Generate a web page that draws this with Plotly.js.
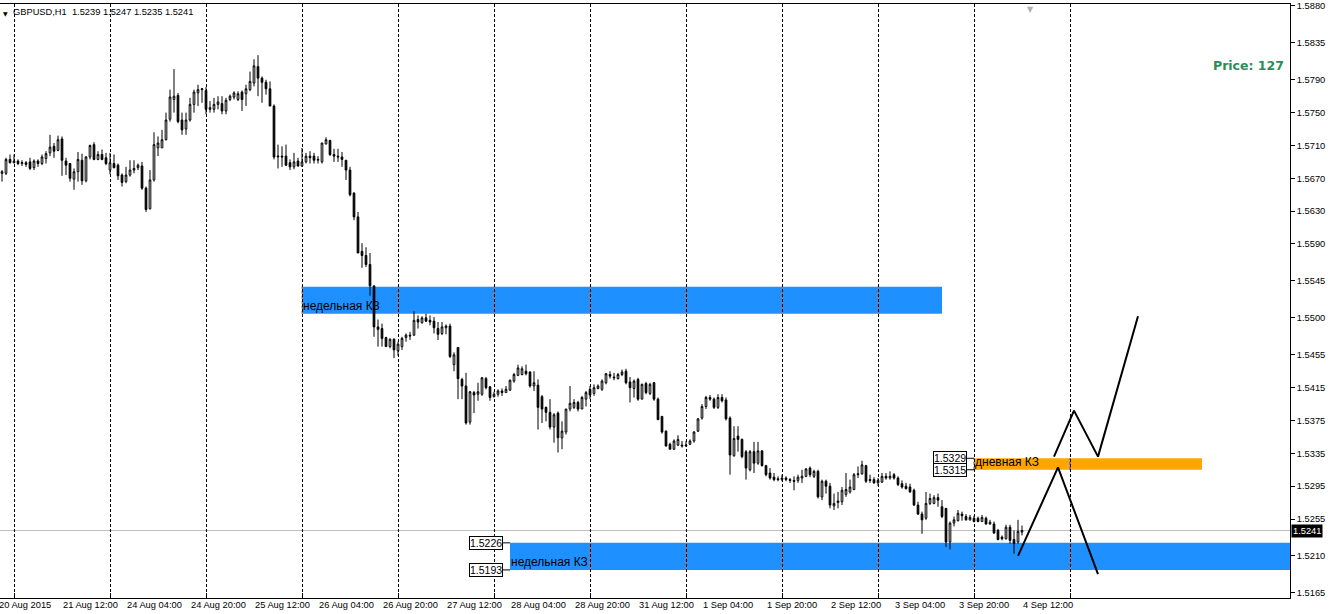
<!DOCTYPE html>
<html><head><meta charset="utf-8">
<script src="https://cdn.plot.ly/plotly-3.0.1.min.js"></script>
<style>html,body{margin:0;padding:0;background:#fff;}#chart{width:1331px;height:614px;}</style>
</head><body><div id="chart"></div>
<script>
// ---------- DATA ----------
const symbol = 'GBPUSD,H1';
// hourly bars, first visible bar = 20 Aug 2015 21:00, last = 4 Sep 2015 12:00
const opens = [
1.5676,1.5676,1.5693,1.5689,1.5691,1.5688,1.5689,1.5690,1.5683,1.5691,1.5688,1.5694,1.5701,1.5709,1.5704,1.5718,
1.5691,1.5688,1.5669,1.5678,1.5692,1.5667,1.5696,1.5711,1.5693,1.5699,1.5695,1.5680,1.5688,1.5686,1.5674,1.5666,
1.5674,1.5680,1.5683,1.5685,1.5658,1.5633,1.5668,1.5707,1.5707,1.5717,1.5742,1.5766,1.5771,1.5741,1.5730,1.5741,
1.5760,1.5774,1.5778,1.5777,1.5754,1.5754,1.5760,1.5761,1.5752,1.5766,1.5769,1.5766,1.5775,1.5773,1.5778,1.5786,
1.5806,1.5792,1.5787,1.5779,1.5758,1.5696,1.5697,1.5697,1.5689,1.5684,1.5691,1.5685,1.5690,1.5697,1.5697,1.5692,
1.5690,1.5712,1.5716,1.5699,1.5697,1.5696,1.5692,1.5680,1.5652,1.5623,1.5581,1.5576,1.5565,1.5539,1.5489,1.5487,
1.5476,1.5465,1.5474,1.5460,1.5465,1.5476,1.5479,1.5479,1.5498,1.5494,1.5500,1.5497,1.5496,1.5487,1.5481,1.5488,
1.5490,1.5443,1.5464,1.5425,1.5417,1.5373,1.5409,1.5407,1.5407,1.5426,1.5416,1.5404,1.5407,1.5411,1.5409,1.5412,
1.5423,1.5430,1.5431,1.5435,1.5434,1.5417,1.5418,1.5404,1.5391,1.5385,1.5367,1.5384,1.5354,1.5361,1.5389,1.5391,
1.5397,1.5389,1.5401,1.5413,1.5408,1.5414,1.5413,1.5421,1.5431,1.5428,1.5426,1.5431,1.5435,1.5422,1.5414,1.5425,
1.5401,1.5420,1.5408,1.5421,1.5401,1.5380,1.5362,1.5346,1.5340,1.5345,1.5345,1.5344,1.5346,1.5350,1.5362,1.5378,
1.5392,1.5403,1.5401,1.5391,1.5403,1.5400,1.5378,1.5332,1.5356,1.5352,1.5337,1.5315,1.5337,1.5323,1.5338,1.5320,
1.5311,1.5306,1.5304,1.5303,1.5305,1.5303,1.5302,1.5302,1.5305,1.5307,1.5317,1.5307,1.5313,1.5282,1.5301,1.5295,
1.5271,1.5275,1.5276,1.5285,1.5288,1.5291,1.5309,1.5310,1.5320,1.5303,1.5303,1.5299,1.5300,1.5307,1.5305,1.5309,
1.5305,1.5298,1.5295,1.5294,1.5290,1.5272,1.5261,1.5256,1.5274,1.5274,1.5281,1.5270,1.5268,1.5227,1.5250,1.5253,
1.5261,1.5258,1.5254,1.5256,1.5256,1.5252,1.5256,1.5249,1.5249,1.5241,1.5233,1.5231,1.5245,1.5230,1.5227,1.5239];
const highs = [
1.5680,1.5695,1.5699,1.5699,1.5693,1.5692,1.5691,1.5695,1.5693,1.5693,1.5699,1.5703,1.5723,1.5713,1.5722,1.5721,
1.5695,1.5688,1.5682,1.5702,1.5700,1.5697,1.5711,1.5714,1.5703,1.5705,1.5701,1.5701,1.5699,1.5688,1.5676,1.5684,
1.5692,1.5692,1.5688,1.5690,1.5660,1.5680,1.5726,1.5721,1.5729,1.5750,1.5778,1.5803,1.5774,1.5750,1.5750,1.5768,
1.5778,1.5784,1.5780,1.5781,1.5764,1.5768,1.5770,1.5770,1.5768,1.5772,1.5776,1.5776,1.5777,1.5784,1.5800,1.5815,
1.5820,1.5794,1.5790,1.5788,1.5760,1.5711,1.5709,1.5711,1.5693,1.5701,1.5695,1.5707,1.5701,1.5703,1.5701,1.5697,
1.5713,1.5720,1.5717,1.5706,1.5706,1.5702,1.5692,1.5684,1.5653,1.5629,1.5591,1.5586,1.5579,1.5539,1.5498,1.5493,
1.5477,1.5475,1.5475,1.5471,1.5477,1.5481,1.5483,1.5508,1.5503,1.5502,1.5505,1.5503,1.5501,1.5495,1.5495,1.5492,
1.5493,1.5458,1.5464,1.5427,1.5433,1.5411,1.5411,1.5421,1.5428,1.5428,1.5417,1.5410,1.5413,1.5414,1.5417,1.5425,
1.5433,1.5443,1.5441,1.5443,1.5435,1.5435,1.5425,1.5406,1.5392,1.5401,1.5384,1.5386,1.5374,1.5389,1.5417,1.5401,
1.5399,1.5405,1.5411,1.5417,1.5419,1.5419,1.5425,1.5433,1.5435,1.5433,1.5433,1.5437,1.5438,1.5428,1.5425,1.5427,
1.5420,1.5422,1.5421,1.5422,1.5403,1.5380,1.5363,1.5348,1.5352,1.5357,1.5350,1.5350,1.5352,1.5362,1.5378,1.5395,
1.5405,1.5406,1.5403,1.5407,1.5407,1.5403,1.5380,1.5368,1.5368,1.5353,1.5339,1.5339,1.5349,1.5349,1.5339,1.5321,
1.5317,1.5311,1.5307,1.5309,1.5307,1.5305,1.5307,1.5309,1.5315,1.5317,1.5319,1.5315,1.5315,1.5303,1.5303,1.5299,
1.5286,1.5288,1.5294,1.5311,1.5303,1.5311,1.5319,1.5326,1.5321,1.5309,1.5306,1.5305,1.5311,1.5311,1.5313,1.5311,
1.5307,1.5302,1.5299,1.5298,1.5292,1.5276,1.5264,1.5288,1.5286,1.5284,1.5286,1.5278,1.5268,1.5252,1.5258,1.5266,
1.5264,1.5261,1.5260,1.5259,1.5258,1.5260,1.5258,1.5254,1.5252,1.5243,1.5235,1.5248,1.5248,1.5241,1.5254,1.5247];
const lows = [
1.5666,1.5674,1.5688,1.5688,1.5686,1.5685,1.5684,1.5680,1.5680,1.5684,1.5686,1.5688,1.5697,1.5695,1.5703,1.5673,
1.5674,1.5666,1.5656,1.5666,1.5662,1.5665,1.5693,1.5692,1.5692,1.5692,1.5686,1.5675,1.5682,1.5668,1.5660,1.5664,
1.5672,1.5676,1.5680,1.5656,1.5629,1.5632,1.5666,1.5697,1.5707,1.5716,1.5739,1.5750,1.5737,1.5723,1.5723,1.5739,
1.5750,1.5758,1.5762,1.5748,1.5750,1.5750,1.5754,1.5748,1.5748,1.5764,1.5766,1.5764,1.5752,1.5758,1.5776,1.5782,
1.5770,1.5762,1.5772,1.5758,1.5693,1.5682,1.5684,1.5685,1.5680,1.5681,1.5684,1.5684,1.5688,1.5688,1.5688,1.5688,
1.5688,1.5711,1.5697,1.5690,1.5690,1.5684,1.5668,1.5648,1.5619,1.5579,1.5561,1.5562,1.5527,1.5477,1.5465,1.5465,
1.5465,1.5463,1.5451,1.5454,1.5461,1.5471,1.5473,1.5478,1.5487,1.5493,1.5495,1.5491,1.5481,1.5473,1.5479,1.5480,
1.5451,1.5435,1.5401,1.5401,1.5370,1.5370,1.5384,1.5399,1.5405,1.5413,1.5399,1.5403,1.5404,1.5405,1.5409,1.5411,
1.5421,1.5429,1.5430,1.5430,1.5415,1.5411,1.5364,1.5372,1.5374,1.5364,1.5348,1.5336,1.5340,1.5358,1.5386,1.5389,
1.5386,1.5389,1.5392,1.5401,1.5405,1.5413,1.5411,1.5419,1.5426,1.5424,1.5425,1.5429,1.5419,1.5397,1.5403,1.5399,
1.5401,1.5407,1.5406,1.5399,1.5376,1.5359,1.5343,1.5340,1.5339,1.5344,1.5342,1.5343,1.5345,1.5348,1.5361,1.5376,
1.5389,1.5399,1.5389,1.5389,1.5397,1.5375,1.5309,1.5331,1.5337,1.5329,1.5303,1.5313,1.5311,1.5321,1.5319,1.5307,
1.5303,1.5301,1.5301,1.5301,1.5301,1.5299,1.5290,1.5299,1.5299,1.5306,1.5306,1.5305,1.5280,1.5278,1.5286,1.5268,
1.5266,1.5268,1.5272,1.5282,1.5286,1.5290,1.5305,1.5309,1.5299,1.5299,1.5298,1.5295,1.5299,1.5303,1.5303,1.5303,
1.5295,1.5292,1.5291,1.5287,1.5271,1.5260,1.5237,1.5254,1.5272,1.5273,1.5270,1.5256,1.5221,1.5218,1.5246,1.5252,
1.5253,1.5253,1.5253,1.5251,1.5251,1.5252,1.5248,1.5248,1.5237,1.5229,1.5229,1.5230,1.5225,1.5213,1.5225,1.5235];
const closes = [
1.5678,1.5693,1.5689,1.5691,1.5688,1.5689,1.5687,1.5682,1.5691,1.5688,1.5696,1.5700,1.5708,1.5703,1.5717,1.5692,
1.5686,1.5670,1.5678,1.5693,1.5667,1.5696,1.5710,1.5693,1.5699,1.5693,1.5688,1.5689,1.5683,1.5673,1.5665,1.5674,
1.5680,1.5682,1.5686,1.5658,1.5632,1.5668,1.5711,1.5713,1.5717,1.5741,1.5769,1.5770,1.5739,1.5729,1.5741,1.5760,
1.5775,1.5778,1.5779,1.5754,1.5756,1.5760,1.5763,1.5752,1.5765,1.5770,1.5774,1.5773,1.5766,1.5779,1.5788,1.5807,
1.5792,1.5787,1.5779,1.5758,1.5696,1.5697,1.5696,1.5686,1.5684,1.5690,1.5685,1.5690,1.5697,1.5695,1.5692,1.5693,
1.5713,1.5717,1.5699,1.5697,1.5696,1.5693,1.5680,1.5650,1.5623,1.5579,1.5576,1.5565,1.5539,1.5489,1.5486,1.5475,
1.5465,1.5474,1.5461,1.5468,1.5475,1.5479,1.5478,1.5497,1.5495,1.5500,1.5496,1.5495,1.5488,1.5480,1.5489,1.5490,
1.5453,1.5455,1.5426,1.5417,1.5372,1.5410,1.5406,1.5410,1.5427,1.5415,1.5403,1.5407,1.5411,1.5409,1.5413,1.5424,
1.5431,1.5439,1.5438,1.5432,1.5417,1.5421,1.5391,1.5389,1.5385,1.5367,1.5382,1.5354,1.5362,1.5389,1.5396,1.5397,
1.5389,1.5403,1.5409,1.5406,1.5415,1.5417,1.5423,1.5432,1.5429,1.5427,1.5431,1.5434,1.5421,1.5415,1.5423,1.5401,
1.5419,1.5409,1.5419,1.5401,1.5376,1.5361,1.5344,1.5340,1.5350,1.5352,1.5344,1.5345,1.5350,1.5361,1.5377,1.5392,
1.5403,1.5401,1.5391,1.5403,1.5399,1.5377,1.5333,1.5353,1.5352,1.5331,1.5317,1.5337,1.5323,1.5338,1.5320,1.5309,
1.5305,1.5303,1.5303,1.5305,1.5303,1.5302,1.5301,1.5306,1.5307,1.5316,1.5309,1.5313,1.5282,1.5301,1.5295,1.5272,
1.5274,1.5277,1.5290,1.5291,1.5294,1.5309,1.5310,1.5321,1.5301,1.5302,1.5299,1.5302,1.5307,1.5305,1.5307,1.5305,
1.5297,1.5294,1.5292,1.5288,1.5272,1.5261,1.5254,1.5274,1.5280,1.5281,1.5278,1.5258,1.5227,1.5250,1.5254,1.5262,
1.5259,1.5254,1.5257,1.5252,1.5252,1.5257,1.5249,1.5251,1.5238,1.5230,1.5231,1.5245,1.5229,1.5225,1.5240,1.5241];

// time-axis labels (one every 16 hourly bars, MT4 style)
const timeLabels = ['20 Aug 2015','21 Aug 12:00','24 Aug 04:00','24 Aug 20:00','25 Aug 12:00','26 Aug 04:00',
  '26 Aug 20:00','27 Aug 12:00','28 Aug 04:00','28 Aug 20:00','31 Aug 12:00','1 Sep 04:00','1 Sep 20:00',
  '2 Sep 12:00','3 Sep 04:00','3 Sep 20:00','4 Sep 12:00'];
// trading days whose 00:00 bar gets a separator
const tradingDays = ['21 Aug','24 Aug','25 Aug','26 Aug','27 Aug','28 Aug','31 Aug','1 Sep','2 Sep','3 Sep','4 Sep','7 Sep'];
const priceTicks = [1.5880,1.5835,1.5790,1.5750,1.5710,1.5670,1.5630,1.5590,1.5545,1.5500,1.5455,1.5415,1.5375,1.5335,1.5295,1.5255,1.5210,1.5165];

// zones (bar index = hours from first visible bar)
const zoneNames = ['недельная КЗ','недельная КЗ','дневная КЗ'];
const zoneHigh = [1.5538, 1.5226, 1.5329];
const zoneLow = [1.5505, 1.5193, 1.5315];
const zoneStartBar = [75, 127, 243];
const zoneEndBar = [235, 340, 300];
const zonePriceTags = [false, true, true];

// projected paths
const pathUpBars = [263, 268, 274, 284];
const pathUpPrices = [1.5331, 1.5387, 1.5331, 1.5502];
const pathDownBars = [254, 264, 274];
const pathDownPrices = [1.5210, 1.5318, 1.5188];

const infoText = 'Price: 127';

// ---------- STYLE ----------
const zoneColors = ['#1E90FF','#1E90FF','#FFA500'];
const FONT = 'Liberation Sans, Arial, sans-serif';
const X_RANGE = [-0.5, 322];
const bars = opens.map((_, i) => i);
const n = bars.length;
const last = n - 1;
const firstLabelBar = -1, labelStep = 16, firstDayBar = 3, barsPerDay = 24;
const labelBars = timeLabels.map((_, j) => firstLabelBar + j * labelStep);
const dayBars = tradingDays.map((_, d) => firstDayBar + d * barsPerDay);
const toPaperX = b => (b - X_RANGE[0]) / (X_RANGE[1] - X_RANGE[0]);

function invert(hex){const v=parseInt(hex.slice(1),16);return '#'+(0xFFFFFF^v).toString(16).padStart(6,'0');}

const shapes = [];
zoneNames.forEach((nm, i) => {
  shapes.push({type:'rect', xref:'x', yref:'y', x0:zoneStartBar[i], x1:zoneEndBar[i], y0:zoneLow[i], y1:zoneHigh[i],
    fillcolor:zoneColors[i], line:{width:0}, layer:'below'});
  dayBars.forEach(b => {
    if (b >= zoneStartBar[i] && b <= zoneEndBar[i]) {
      shapes.push({type:'line', xref:'x', yref:'y', x0:b, x1:b, y0:zoneLow[i], y1:zoneHigh[i],
        line:{color:invert(zoneColors[i]), width:1, dash:'3px,2px'}, layer:'below'});
    }
  });
});
shapes.push({type:'line', xref:'paper', yref:'y', x0:0, x1:1, y0:closes[last], y1:closes[last],
  line:{color:'#c0c0c0', width:1}, layer:'below'});

const annotations = [];
// header
annotations.push({xref:'paper', yref:'paper', x:0, y:1, xanchor:'left', yanchor:'top', xshift:2, yshift:-5,
  text:'▼', showarrow:false, borderpad:0, font:{family:'DejaVu Sans', size:6, color:'#000'}});
annotations.push({xref:'paper', yref:'paper', x:0, y:1, xanchor:'left', yanchor:'top', xshift:12, yshift:-2,
  text: symbol + '&nbsp;&nbsp;' + [opens[last], highs[last], lows[last], closes[last]].map(v => v.toFixed(4)).join(' '),
  showarrow:false, borderpad:0, font:{family:FONT, size:9.3, color:'#000'}});
// time labels
timeLabels.forEach((t, j) => {
  annotations.push({xref:'paper', yref:'paper', x:toPaperX(labelBars[j]), y:0, xanchor:'left', yanchor:'top', yshift:-1,
    text:t, showarrow:false, borderpad:0, font:{family:FONT, size:9.3, color:'#000'}});
});
// zone names and price tags
zoneNames.forEach((nm, i) => {
  annotations.push({xref:'x', yref:'y', x:zoneStartBar[i], y:zoneLow[i], xanchor:'left', yanchor:'bottom',
    text:nm, showarrow:false, borderpad:0, font:{family:FONT, size:12, color:'#000'}});
  if (zonePriceTags[i]) {
    [zoneHigh[i], zoneLow[i]].forEach(p => {
      annotations.push({xref:'x', yref:'y', x:zoneStartBar[i], y:p, text:p.toFixed(4), showarrow:true,
        arrowhead:0, arrowwidth:1, arrowcolor:'#000', ax:-24, ay:0, bgcolor:'#fff', bordercolor:'#000',
        borderwidth:1, borderpad:0, font:{family:FONT, size:10.5, color:'#000'}});
    });
  }
});
// current price tag on the axis
annotations.push({xref:'paper', yref:'y', x:1, y:closes[last], xanchor:'left', yanchor:'middle', xshift:1,
  text:closes[last].toFixed(4), showarrow:false, bgcolor:'#000', borderpad:1,
  font:{family:FONT, size:9.3, color:'#fff'}});
// info text
annotations.push({xref:'paper', yref:'paper', x:1, y:1, xanchor:'right', yanchor:'middle', xshift:-4, yshift:-61,
  text:infoText, showarrow:false, font:{family:'DejaVu Sans', size:12.5, color:'#2E8B57', weight:'bold'}});
// chart shift marker
annotations.push({xref:'x', yref:'paper', x:257, y:1, xanchor:'center', yanchor:'top', yshift:0,
  text:'▼', showarrow:false, borderpad:0, font:{family:'DejaVu Sans', size:8, color:'#b0b0b0'}});

const traces = [
  {type:'candlestick', x:bars, open:opens, high:highs, low:lows, close:closes, whiskerwidth:0,
   increasing:{line:{color:'#000', width:1}, fillcolor:'#fff'},
   decreasing:{line:{color:'#000', width:1}, fillcolor:'#000'}, hoverinfo:'skip', showlegend:false},
  {type:'scatter', mode:'lines', x:pathUpBars, y:pathUpPrices, line:{color:'#000', width:2}, hoverinfo:'skip', showlegend:false},
  {type:'scatter', mode:'lines', x:pathDownBars, y:pathDownPrices, line:{color:'#000', width:2}, hoverinfo:'skip', showlegend:false}
];

const layout = {
  width:1331, height:614,
  margin:{l:0, r:41, t:4, b:16, pad:0},
  paper_bgcolor:'#fff', plot_bgcolor:'#fff', showlegend:false,
  font:{family:FONT, size:9.3, color:'#000'},
  boxgap:0.4,
  xaxis:{type:'linear', range:X_RANGE, tickvals:dayBars, ticks:'inside', ticklen:5, tickcolor:'#000',
    showticklabels:false, showgrid:true, gridcolor:'#000', griddash:'3px,2px', gridwidth:1,
    showline:true, linecolor:'#000', linewidth:1, mirror:true, zeroline:false,
    rangeslider:{visible:false}, fixedrange:true},
  yaxis:{side:'right', range:[1.51588, 1.58823], tickvals:priceTicks, ticktext:priceTicks.map(v => v.toFixed(4)),
    ticks:'outside', ticklen:4, tickcolor:'#000', showgrid:false, showline:true, linecolor:'#000', linewidth:1,
    zeroline:false, tickfont:{family:FONT, size:9.3, color:'#000'}, fixedrange:true},
  shapes:shapes, annotations:annotations
};

Plotly.newPlot('chart', traces, layout, {staticPlot:true, displayModeBar:false});
</script>
</body></html>
